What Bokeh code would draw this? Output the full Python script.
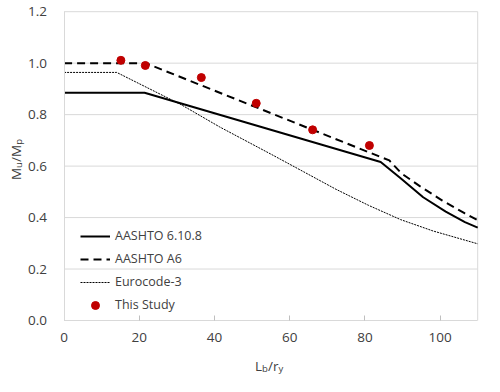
import math
from bokeh.plotting import figure
from bokeh.models import Range1d, FixedTicker, NumeralTickFormatter, Label, Legend
from bokeh.embed import file_html
from bokeh.resources import INLINE

# ---- data ----
x_aashto = [0, 21.4, 84.2, 89.5, 95.5, 101.5, 106.6, 110]
y_aashto = [0.885, 0.885, 0.616, 0.553, 0.479, 0.423, 0.382, 0.361]

x_a6 = [0, 21.7, 86.5, 89.7, 94.6, 100.6, 106.6, 110]
y_a6 = [1.0, 1.0, 0.622, 0.572, 0.522, 0.466, 0.416, 0.390]

x_ec = [0, 14.0, 31.1, 41.4, 55.2, 63.7, 72.3, 80.9, 89.5, 98.1, 110]
y_ec = [0.964, 0.964, 0.839, 0.752, 0.645, 0.578, 0.510, 0.448, 0.392, 0.348, 0.298]

x_pts = [15.1, 21.6, 36.5, 51.1, 66.1, 81.2]
y_pts = [1.011, 0.991, 0.944, 0.844, 0.741, 0.680]

x_ticks = [0, 20, 40, 60, 80, 100]
y_ticks = [0.0, 0.2, 0.4, 0.6, 0.8, 1.0, 1.2]

labels = ["AASHTO 6.10.8", "AASHTO A6", "Eurocode-3", "This Study"]

X0, X1 = 0, 110
Y0, Y1 = 0, 1.2

# ---- layout (canvas pixels) ----
W, H = 484, 376
PL, PR = 63.6, 477.2   # canvas x of X0, X1
PT, PB = 11.2, 320.0   # canvas y of Y1, Y0

sx = (X1 - X0) / (PR - PL)
sy = (Y1 - Y0) / (PB - PT)
xr = Range1d(X0 - PL * sx, X1 + (W - PR) * sx)
yr = Range1d(Y0 - (H - PB) * sy, Y1 + PT * sy)

def dx(cx):
    return X0 + (cx - PL) * sx

def dy(cy):
    return Y0 + (PB - cy) * sy

FONT = "Open Sans"
TXT = "#404040"
GRID = "#d9d9d9"

p = figure(width=W, height=H, output_backend="svg", toolbar_location=None,
           x_range=xr, y_range=yr, min_border=0)
p.min_border_left = p.min_border_right = p.min_border_top = p.min_border_bottom = 0

p.background_fill_color = "white"
p.border_fill_color = "white"
p.outline_line_color = None

p.xgrid.visible = False
p.ygrid.visible = False

# horizontal gridlines across the plot area, plus the right border
p.segment(x0=X0, x1=X1, y0=y_ticks[1:], y1=y_ticks[1:], line_color=GRID, line_width=1)
p.segment(x0=X1, x1=X1, y0=Y0, y1=Y1, line_color=GRID, line_width=1)

p.xaxis.ticker = FixedTicker(ticks=x_ticks)
p.yaxis.ticker = FixedTicker(ticks=y_ticks)
p.yaxis.formatter = NumeralTickFormatter(format="0.0")
p.xaxis.fixed_location = Y0
p.yaxis.fixed_location = X0
p.xaxis.bounds = (X0, X1)
p.yaxis.bounds = (Y0, Y1)

for ax in (p.xaxis[0], p.yaxis[0]):
    ax.axis_line_color = GRID
    ax.major_label_text_font = FONT
    ax.major_label_text_font_size = "13.5px"
    ax.major_label_text_color = TXT
    ax.minor_tick_line_color = None

p.xaxis.major_tick_line_color = "#bfbfbf"
p.xaxis.major_tick_in = 5
p.xaxis.major_tick_out = 0
p.xaxis.major_label_standoff = 12
p.yaxis.major_tick_line_color = None
p.yaxis.major_tick_in = 0
p.yaxis.major_tick_out = 0
p.yaxis.major_label_standoff = 17

r1 = p.line(x_aashto, y_aashto, line_color="black", line_width=2)
r2 = p.line(x_a6, y_a6, line_color="black", line_width=2, line_dash="8 5")
r3 = p.line(x_ec, y_ec, line_color="black", line_width=1, line_dash="2 1")
r4 = p.scatter(x_pts, y_pts, size=8, fill_color="#C00000", line_color="#C00000")

legend = Legend(items=[(labels[0], [r1]), (labels[1], [r2]), (labels[2], [r3]), (labels[3], [r4])],
                location=(80, H - 314.7), padding=0, margin=0, spacing=3,
                glyph_width=30, glyph_height=20, label_height=20, label_standoff=5,
                border_line_color=None, background_fill_alpha=0,
                label_text_font=FONT, label_text_font_size="12.5px", label_text_color=TXT)
p.add_layout(legend, "center")

# ---- axis titles built from pieces (for subscripts) ----
bx, base = 254.6, 365.5
for txt, off, size, shift in [("L", 0, 13.5, 0), ("b", 7.0, 9.5, 2.9), ("/r", 12.9, 13.5, 0), ("y", 23.4, 9.5, 2.9)]:
    p.add_layout(Label(x=dx(bx + off), y=dy(base + shift), text=txt, text_font=FONT,
                       text_font_size=f"{size}px", text_color=TXT,
                       text_align="left", text_baseline="alphabetic"))

by, bline = 179.6, 15.5
for txt, off, size, shift in [("M", 0, 13.5, 0), ("u", 12.2, 9.5, 2.9), ("/M", 18.1, 13.5, 0), ("p", 35.3, 9.5, 2.9)]:
    p.add_layout(Label(x=dx(bline + shift), y=dy(by - off), text=txt, text_font=FONT,
                       text_font_size=f"{size}px", text_color=TXT, angle=math.pi / 2,
                       text_align="left", text_baseline="alphabetic"))

open("out.html", "w").write(file_html(p, INLINE))
